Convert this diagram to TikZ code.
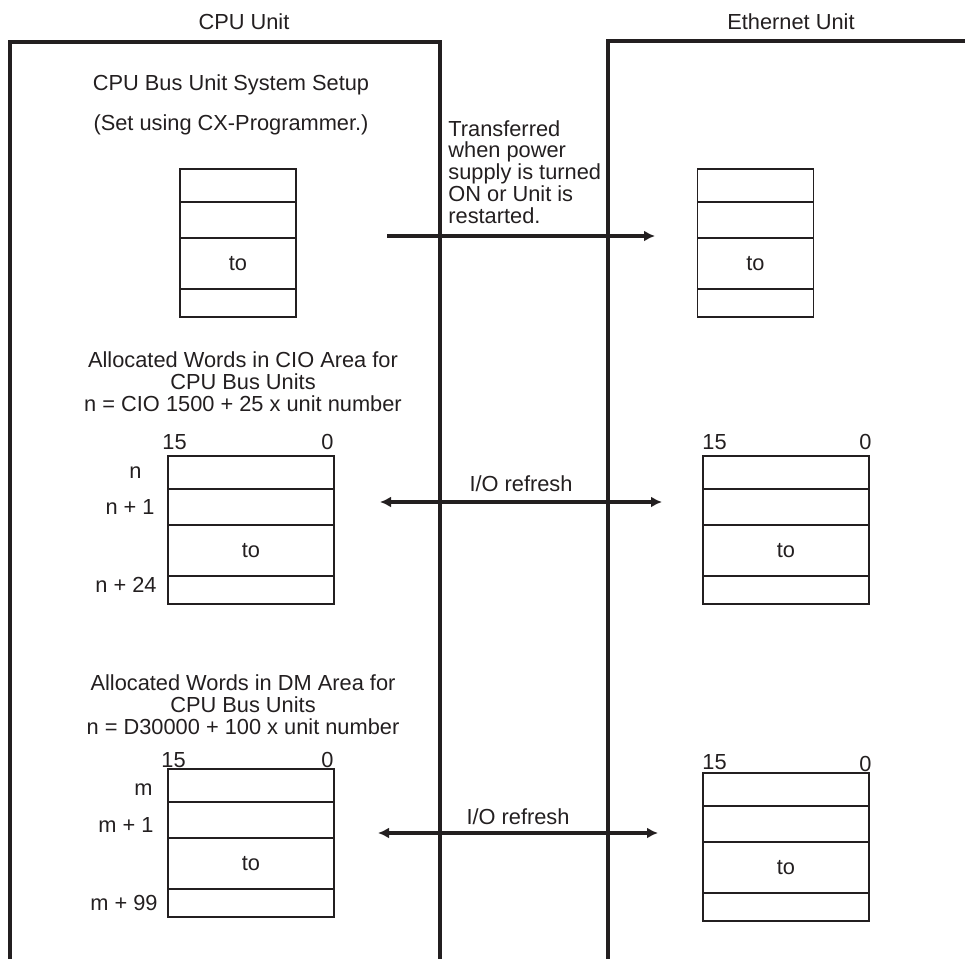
\documentclass[tikz,border=0pt]{standalone}
\usepackage{fontspec}
\setmainfont{Liberation Sans}
\usepackage{tikz}
\usetikzlibrary{arrows.meta, positioning}
\definecolor{ink}{HTML}{231F20}

\begin{document}
\begin{tikzpicture}[
    x=0.5pt, y=-0.5pt,
    font=\fontsize{10.9}{10.9}\selectfont,
    text=ink,
    unit/.style={
        draw=ink,
        line width=2pt
    },
    cell/.style={
        draw=ink,
        line width=0.7pt,
        minimum width=83pt,
        inner sep=0pt,
        outer sep=0pt
    },
    slim/.style={
        cell,
        minimum width=58pt
    },
    rowa/.style={minimum height=16.5pt},
    rowb/.style={minimum height=18pt},
    rowc/.style={minimum height=25.5pt},
    rowd/.style={minimum height=14pt},
    lbl/.style={inner sep=0pt},
    arrow/.style={
        -{Latex[length=5.5pt, width=5.5pt]},
        line width=1.6pt,
        draw=ink
    },
    both/.style={
        {Latex[length=5.5pt, width=5.5pt]}-{Latex[length=5.5pt, width=5.5pt]},
        line width=1.6pt,
        draw=ink
    }
]
\useasboundingbox (0,0) rectangle (965,959);

% Unit frames
\draw [unit] (10,962) |- (440,42) -- (440,962);
\draw [unit] (608,962) |- (968,41);
\node (cpu) at (244,22) {CPU Unit};
\node (eth) at (791,22) {Ethernet Unit};

% System setup
\node (setup) at (231,85) {CPU Bus Unit System Setup};
\node (setnote) at (231,125) {(Set using CX-Programmer.)};
\node (cs1) [slim, rowa, anchor=north] at (238,169) {};
\node (cs2) [slim, rowb, below=0pt of cs1] {};
\node (cs3) [slim, rowc, below=0pt of cs2] {to};
\node (cs4) [slim, rowd, below=0pt of cs3] {};
\node (es1) [slim, rowa, anchor=north] at (755.5,169) {};
\node (es2) [slim, rowb, below=0pt of es1] {};
\node (es3) [slim, rowc, below=0pt of es2] {to};
\node (es4) [slim, rowd, below=0pt of es3] {};
\node (xfer) [lbl, anchor=west, align=left] at (448,172) {Transferred\\when power\\supply is turned\\ON or Unit is\\restarted.};
\coordinate (xa) at (387,236);
\coordinate (xb) at (655,236);
\draw [arrow] (xa) -- (xb);

% CIO area
\node (ciohead) [align=center] at (243,382) {Allocated Words in CIO Area for\\CPU Bus Units\\n = CIO 1500 + 25 x unit number};
\node (cc1) [cell, rowa, anchor=north] at (251,456) {};
\node (cc2) [cell, rowb, below=0pt of cc1] {};
\node (cc3) [cell, rowc, below=0pt of cc2] {to};
\node (cc4) [cell, rowd, below=0pt of cc3] {};
\node (cc15) [lbl, above right=3pt and -3pt of cc1.north west] {15};
\node (cc0) [lbl, above left=3pt and 0pt of cc1.north east] {0};
\node (ccn) [lbl, left=13pt of cc1] {n};
\node (ccn1) [lbl, left=6.5pt of cc2] {n + 1};
\node (ccn24) [lbl, left=5.5pt of cc4, yshift=2.5pt] {n + 24};
\node (ec1) [cell, rowa, anchor=north] at (786,456) {};
\node (ec2) [cell, rowb, below=0pt of ec1] {};
\node (ec3) [cell, rowc, below=0pt of ec2] {to};
\node (ec4) [cell, rowd, below=0pt of ec3] {};
\node (ec15) [lbl, above right=3pt and -0.5pt of ec1.north west] {15};
\node (ec0) [lbl, above left=3pt and -1.5pt of ec1.north east] {0};
\coordinate (ca) at (380,502);
\coordinate (cb) at (662,502);
\draw [both] (ca) -- node (cioref) [lbl, above=4.5pt] {I/O refresh} (cb);

% DM area
\node (dmhead) [align=center] at (243,705) {Allocated Words in DM Area for\\CPU Bus Units\\n = D30000 + 100 x unit number};
\node (dc1) [cell, rowa, anchor=north] at (251,769) {};
\node (dc2) [cell, rowb, below=0pt of dc1] {};
\node (dc3) [cell, rowc, below=0pt of dc2] {to};
\node (dc4) [cell, rowd, below=0pt of dc3] {};
\node (dc15) [lbl, above right=0.5pt and -3.5pt of dc1.north west] {15};
\node (dc0) [lbl, above left=0.5pt and 0pt of dc1.north east] {0};
\node (dcm) [lbl, left=7.5pt of dc1, yshift=-2pt] {m};
\node (dcm1) [lbl, left=7pt of dc2, yshift=-2.5pt] {m + 1};
\node (dcm99) [lbl, left=5pt of dc4] {m + 99};
\node (ed1) [cell, rowa, anchor=north] at (786,773) {};
\node (ed2) [cell, rowb, below=0pt of ed1] {};
\node (ed3) [cell, rowc, below=0pt of ed2] {to};
\node (ed4) [cell, rowd, below=0pt of ed3] {};
\node (ed15) [lbl, above right=1.5pt and -0.5pt of ed1.north west] {15};
\node (ed0) [lbl, above left=0.5pt and -1.5pt of ed1.north east] {0};
\coordinate (da) at (378,833);
\coordinate (db) at (658,833);
\draw [both] (da) -- node (dmref) [lbl, above=3.5pt] {I/O refresh} (db);

\end{tikzpicture}
\end{document}
